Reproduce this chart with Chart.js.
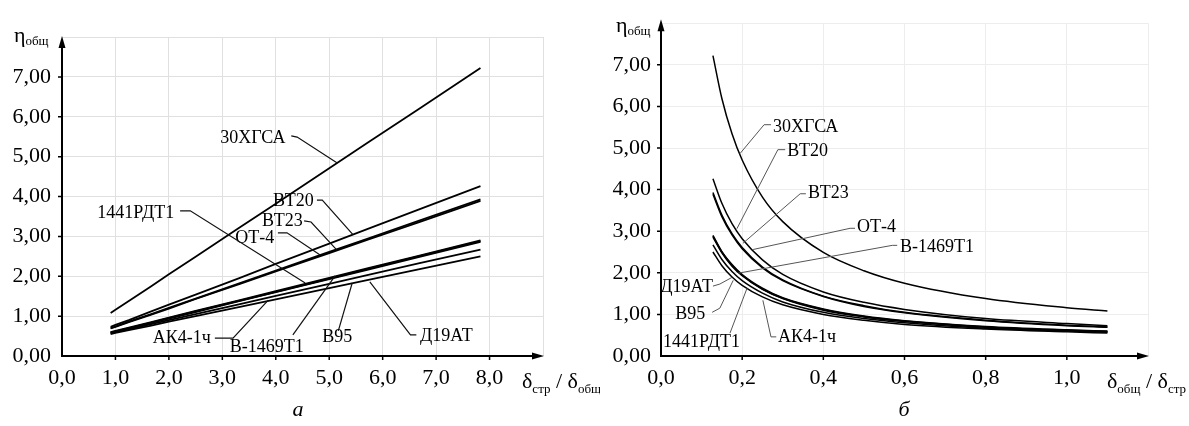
<!DOCTYPE html>
<html>
<head>
<meta charset="utf-8">
<script src="https://cdn.jsdelivr.net/npm/chart.js@4.4.1/dist/chart.umd.min.js"></script>
<style>
  html, body { margin: 0; padding: 0; background: #fff; }
  #wrap { position: relative; width: 1189px; height: 426px; overflow: hidden; }
  canvas { position: absolute; top: 0; }
  #chartA { left: 0; }
  #chartB { left: 590px; }
</style>
</head>
<body>
<div id="wrap">
  <canvas id="chartA" width="600" height="426"></canvas>
  <canvas id="chartB" width="599" height="426"></canvas>
</div>
<script>
// δстр/δобщ (chart а) and δобщ/δстр (chart б)
const ratio    = [0.91, 1.00, 1.25, 1.67, 2.00, 2.50, 3.33, 4.00, 5.00, 5.71, 6.67, 7.83];
const ratioInv = [1.10, 1.00, 0.80, 0.60, 0.50, 0.40, 0.30, 0.25, 0.20, 0.175, 0.15, 0.128];

// η общ for each alloy, same order as ratio
const eta30XGSA = [1.08, 1.16, 1.38, 1.75, 2.05, 2.49, 3.23, 3.82, 4.71, 5.34, 6.19, 7.22];
const etaVT20   = [0.73, 0.78, 0.90, 1.12, 1.29, 1.54, 1.96, 2.31, 2.82, 3.18, 3.67, 4.26];
const etaVT23   = [0.70, 0.74, 0.86, 1.05, 1.21, 1.44, 1.83, 2.14, 2.61, 2.94, 3.39, 3.93];
const etaOT4    = [0.69, 0.73, 0.85, 1.04, 1.19, 1.43, 1.81, 2.12, 2.58, 2.91, 3.35, 3.89];
const etaV1469  = [0.60, 0.63, 0.71, 0.85, 0.96, 1.13, 1.40, 1.63, 1.96, 2.20, 2.51, 2.90];
const eta1441   = [0.59, 0.62, 0.70, 0.84, 0.95, 1.12, 1.39, 1.61, 1.94, 2.18, 2.50, 2.88];
const etaAK4    = [0.58, 0.61, 0.69, 0.83, 0.94, 1.10, 1.38, 1.60, 1.93, 2.16, 2.48, 2.86];
const etaV95    = [0.57, 0.60, 0.67, 0.80, 0.90, 1.05, 1.30, 1.51, 1.81, 2.03, 2.32, 2.67];
const etaD19    = [0.55, 0.58, 0.65, 0.76, 0.86, 1.00, 1.23, 1.42, 1.70, 1.90, 2.17, 2.50];

const alloys = ['30ХГСА', 'ВТ20', 'ВТ23', 'ОТ-4', 'В-1469Т1', '1441РДТ1', 'АК4-1ч', 'В95', 'Д19АТ'];
const etaSets = [eta30XGSA, etaVT20, etaVT23, etaOT4, etaV1469, eta1441, etaAK4, etaV95, etaD19];

// label callouts, in data units: [text, x, y, leader path]
const calloutsA = [
  ['30ХГСА',   2.96, 5.47, [[4.29, 5.52], [4.40, 5.49], [5.15, 4.84]]],
  ['ВТ20',     3.95, 3.89, [[4.77, 3.91], [4.87, 3.91], [5.44, 3.05]]],
  ['ВТ23',     3.74, 3.39, [[4.53, 3.39], [4.66, 3.36], [5.14, 2.66]]],
  ['ОТ-4',     3.24, 2.96, [[4.04, 3.09], [4.21, 3.09], [4.83, 2.53]]],
  ['1441РДТ1', 0.66, 3.59, [[2.21, 3.64], [2.40, 3.64], [4.55, 1.83]]],
  ['АК4-1ч',   1.70, 0.45, [[2.86, 0.45], [3.20, 0.45], [3.86, 1.40]]],
  ['В-1469Т1', 3.14, 0.23, [[4.32, 0.53], [5.11, 2.01]]],
  ['В95',      4.87, 0.46, [[5.17, 0.63], [5.43, 1.83]]],
  ['Д19АТ',    6.70, 0.50, [[6.63, 0.53], [6.52, 0.53], [5.76, 1.86]]]
];
const calloutsB = [
  ['30ХГСА',   0.276, 5.51, [[0.271, 5.56], [0.254, 5.56], [0.195, 4.87]]],
  ['ВТ20',     0.311, 4.93, [[0.306, 4.96], [0.288, 4.96], [0.187, 3.06]]],
  ['ВТ23',     0.362, 3.90, [[0.357, 3.90], [0.343, 3.90], [0.202, 2.71]]],
  ['ОТ-4',     0.483, 3.09, [[0.478, 3.07], [0.466, 3.07], [0.227, 2.56]]],
  ['В-1469Т1', 0.589, 2.62, [[0.582, 2.66], [0.570, 2.66], [0.190, 1.99]]],
  ['Д19АТ',   -0.002, 1.66, [[0.128, 1.68], [0.145, 1.73], [0.175, 1.89]]],
  ['В95',      0.035, 1.01, [[0.126, 1.05], [0.145, 1.15], [0.178, 1.82]]],
  ['1441РДТ1', 0.005, 0.32, [[0.170, 0.55], [0.212, 1.63]]],
  ['АК4-1ч',   0.288, 0.46, [[0.284, 0.46], [0.271, 0.46], [0.251, 1.34]]]
];

const serif = '"Liberation Serif", "Times New Roman", serif';

function drawRuns(ctx, x, y, runs) {
  let cx = x;
  for (const [t, size, dy] of runs) {
    ctx.font = size + 'px ' + serif;
    ctx.fillText(t, cx, y + dy);
    cx += ctx.measureText(t).width;
  }
}

function decor(opts) {
  return {
    id: 'decor',
    afterDraw(chart) {
      const { ctx, chartArea: a } = chart;
      const sx = chart.scales.x, sy = chart.scales.y;
      const x0 = sx.getPixelForValue(0), y0 = sy.getPixelForValue(0);
      ctx.save();

      // callouts
      ctx.strokeStyle = opts.leaderColor;
      ctx.lineWidth = opts.leaderWidth;
      ctx.fillStyle = '#000';
      ctx.textBaseline = 'middle';
      ctx.font = '18px ' + serif;
      opts.callouts.forEach(([text, tx, ty, path]) => {
        ctx.beginPath();
        path.forEach(([px, py], i) => {
          const X = sx.getPixelForValue(px), Y = sy.getPixelForValue(py);
          if (i === 0) ctx.moveTo(X, Y); else ctx.lineTo(X, Y);
        });
        ctx.stroke();
        ctx.fillText(text, sx.getPixelForValue(tx), sy.getPixelForValue(ty));
      });

      // axes with arrows
      ctx.strokeStyle = '#000';
      ctx.fillStyle = '#000';
      ctx.lineWidth = 2;
      ctx.beginPath();
      ctx.moveTo(x0, y0 + 1);
      ctx.lineTo(x0, a.top - opts.tipOver + 8);
      ctx.moveTo(x0 - 1, y0);
      ctx.lineTo(a.right - 8, y0);
      ctx.stroke();
      ctx.beginPath();
      ctx.moveTo(x0, a.top - opts.tipOver);
      ctx.lineTo(x0 - 3.5, a.top - opts.tipOver + 12);
      ctx.lineTo(x0 + 3.5, a.top - opts.tipOver + 12);
      ctx.closePath();
      ctx.fill();
      ctx.beginPath();
      ctx.moveTo(a.right + 1, y0);
      ctx.lineTo(a.right - 11, y0 - 3.5);
      ctx.lineTo(a.right - 11, y0 + 3.5);
      ctx.closePath();
      ctx.fill();

      // tick marks
      ctx.lineWidth = 1.5;
      ctx.beginPath();
      sy.ticks.forEach(t => {
        if (t.value > 0 && t.value < sy.max) {
          const Y = sy.getPixelForValue(t.value);
          ctx.moveTo(x0 - 4, Y); ctx.lineTo(x0, Y);
        }
      });
      sx.ticks.forEach(t => {
        if (t.value > 0 && t.value < sx.max - 1e-6) {
          const X = sx.getPixelForValue(t.value);
          ctx.moveTo(X, y0); ctx.lineTo(X, y0 + 4);
        }
      });
      ctx.stroke();

      // axis titles
      ctx.textBaseline = 'alphabetic';
      drawRuns(ctx, opts.etaPos[0], opts.etaPos[1], [['η', 22, 0], ['общ', 13, 3]]);
      drawRuns(ctx, opts.xTitlePos[0], opts.xTitlePos[1], opts.xTitle);

      // caption
      ctx.textAlign = 'center';
      ctx.font = 'italic 22px ' + serif;
      ctx.fillText(opts.caption, opts.captionPos[0], opts.captionPos[1]);
      ctx.restore();
    }
  };
}

function makeChart(id, xs, cfg) {
  const datasets = alloys.map((name, k) => ({
    label: name,
    data: xs.map((v, i) => ({ x: v, y: etaSets[k][i] })).sort((p, q) => p.x - q.x),
    borderColor: '#000',
    borderWidth: cfg.lineWidth,
    pointRadius: 0,
    showLine: true,
    fill: false,
    cubicInterpolationMode: cfg.curved ? 'monotone' : 'default',
    tension: 0
  }));

  const tickFont = { family: serif, size: 22 };
  return new Chart(document.getElementById(id), {
    type: 'scatter',
    data: { datasets },
    options: {
      responsive: false,
      animation: false,
      layout: { padding: cfg.padding },
      plugins: { legend: { display: false }, tooltip: { enabled: false } },
      scales: {
        x: {
          type: 'linear',
          min: 0,
          max: cfg.xMax,
          afterFit(s) { s.height = 70; },
          border: { display: false },
          grid: { color: cfg.gridColor, lineWidth: 1, drawTicks: false },
          ticks: {
            stepSize: cfg.xStep,
            autoSkip: false,
            maxRotation: 0,
            padding: 9,
            color: '#000',
            font: tickFont,
            callback: v => (v < cfg.xLast + 1e-6 ? v.toFixed(1).replace('.', ',') : '')
          }
        },
        y: {
          min: 0,
          max: 8,
          afterFit(s) { s.width = cfg.yWidth; },
          border: { display: false },
          grid: { color: cfg.gridColor, lineWidth: 1, drawTicks: false },
          ticks: {
            stepSize: 1,
            padding: cfg.yPad,
            color: '#000',
            font: tickFont,
            callback: v => (v < 7.5 ? v.toFixed(2).replace('.', ',') : '')
          }
        }
      }
    },
    plugins: [decor(cfg.decor)]
  });
}

makeChart('chartA', ratio, {
  xMax: 9, xStep: 1, xLast: 8, yWidth: 62, yPad: 11,
  padding: { top: 37, right: 57, left: 0, bottom: 0 },
  gridColor: '#e0e0e0', lineWidth: 1.8, curved: false,
  decor: {
    callouts: calloutsA, leaderColor: '#111', leaderWidth: 1.2, tipOver: 1,
    etaPos: [14, 42],
    xTitlePos: [522, 388],
    xTitle: [['δ', 22, 0], ['стр', 13, 5], [' / ', 22, 0], ['δ', 22, 0], ['общ', 13, 5]],
    caption: 'а', captionPos: [298, 416]
  }
});

makeChart('chartB', ratioInv, {
  xMax: 1.2, xStep: 0.2, xLast: 1.0, yWidth: 71, yPad: 10,
  padding: { top: 22, right: 41, left: 0, bottom: 0 },
  gridColor: '#ededed', lineWidth: 1.5, curved: true,
  decor: {
    callouts: calloutsB, leaderColor: '#555', leaderWidth: 1, tipOver: 4,
    etaPos: [26, 32],
    xTitlePos: [517, 388],
    xTitle: [['δ', 22, 0], ['общ', 13, 5], [' / ', 22, 0], ['δ', 22, 0], ['стр', 13, 5]],
    caption: 'б', captionPos: [314, 416]
  }
});
</script>
</body>
</html>
